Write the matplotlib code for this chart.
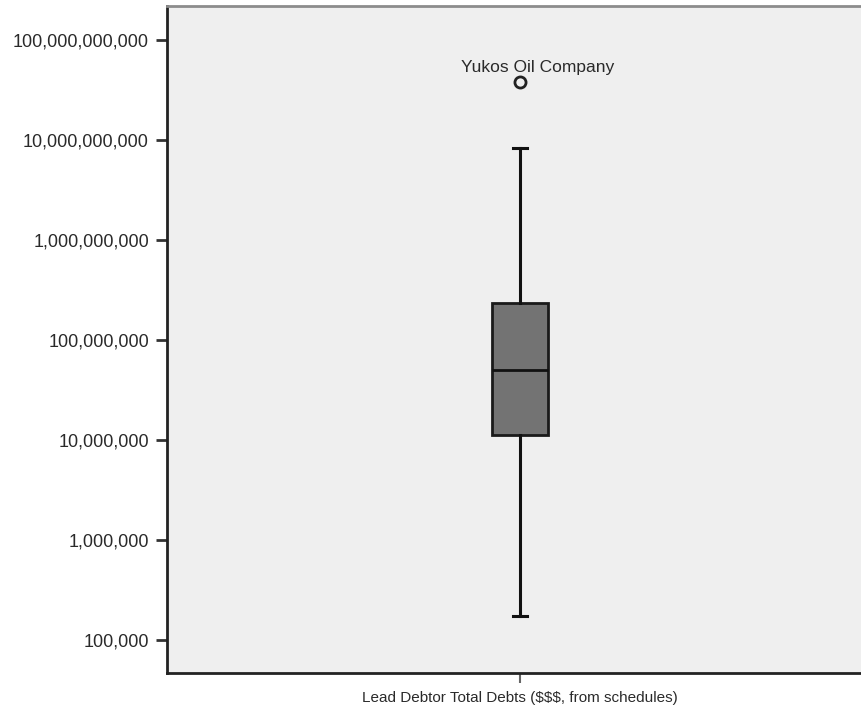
import matplotlib.pyplot as plt
from matplotlib.ticker import FixedLocator, FuncFormatter

# summary values for total debts (log scale)
variable = "Lead Debtor Total Debts ($$$, from schedules)"
whisker_low = 1.74e5
q1 = 1.12e7
median = 5.0e7
q3 = 2.34e8
whisker_high = 8.3e9
outlier_values = [3.8e10]
outlier_names = ["Yukos Oil Company"]
tick_values = [1e5, 1e6, 1e7, 1e8, 1e9, 1e10, 1e11]

plt.rcParams['font.family'] = ['Liberation Sans', 'DejaVu Sans']

fig = plt.figure(figsize=(8.62, 7.11), dpi=100)
# plot area runs off the right edge of the figure
ax = fig.add_axes([167 / 862, (711 - 673) / 711, (873 - 167) / 862, (673 - 6) / 711])
ax.set_facecolor('#efefef')

stats = [{
    'whislo': whisker_low, 'q1': q1, 'med': median, 'q3': q3,
    'whishi': whisker_high, 'fliers': outlier_values, 'label': variable,
}]
ax.bxp(stats, positions=[0], widths=0.078, patch_artist=True,
       boxprops=dict(facecolor='#737373', edgecolor='#1a1a1a', linewidth=2),
       medianprops=dict(color='#111111', linewidth=2),
       whiskerprops=dict(color='#111111', linewidth=2.2),
       capprops=dict(color='#111111', linewidth=2.2),
       capwidths=0.021,
       flierprops=dict(marker='o', markersize=8, markerfacecolor='none',
                       markeredgecolor='#222222', markeredgewidth=2))

for val, name in zip(outlier_values, outlier_names):
    ax.annotate(name, (0, val), xytext=(13, 5), textcoords='offset points',
                ha='center', va='bottom', fontsize=12.5, color='#2a2a2a')

ax.set_yscale('log')
ax.set_ylim(10 ** 4.67, 10 ** 11.34)
ax.set_xlim(-0.5, 0.5)
ax.yaxis.set_major_locator(FixedLocator(tick_values))
ax.yaxis.set_minor_locator(FixedLocator([]))
ax.yaxis.set_major_formatter(FuncFormatter(lambda v, p: f"{v:,.0f}"))
ax.set_xticks([0])
ax.set_xticklabels([variable], fontsize=11, color='#2a2a2a')

ax.tick_params(axis='y', length=8, width=2, color='#333333', pad=5,
               labelsize=13, labelcolor='#2a2a2a')
ax.tick_params(axis='x', length=7, width=1.5, color='#666666', pad=6)

for side in ['left', 'bottom']:
    ax.spines[side].set_color('#222222')
    ax.spines[side].set_linewidth(2)
ax.spines['top'].set_color('#8c8c8c')
ax.spines['top'].set_linewidth(2)
ax.spines['right'].set_visible(False)

fig.savefig('out.png', dpi=100)
